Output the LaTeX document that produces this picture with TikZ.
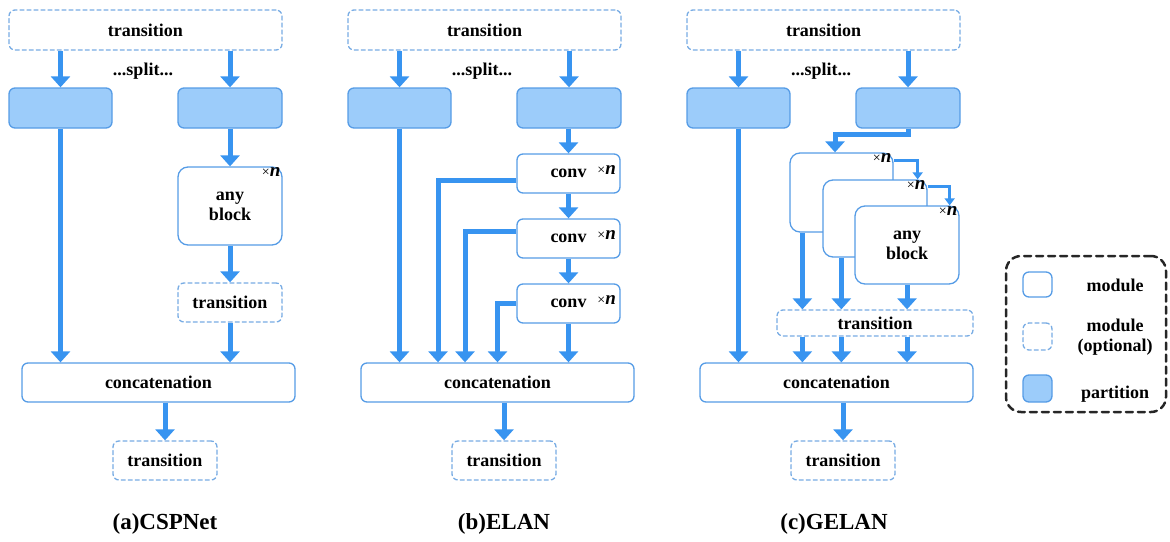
\documentclass[tikz,border=0pt]{standalone}
\usepackage{fontspec}
\setmainfont{Liberation Serif}
\usetikzlibrary{arrows.meta}
\definecolor{flowblue}{RGB}{56,148,240}
\definecolor{edgeblue}{RGB}{86,156,230}
\definecolor{optblue}{RGB}{120,172,228}
\definecolor{partblue}{RGB}{156,204,250}
\newcommand{\timesn}{{\fontsize{14}{14}\selectfont\mdseries ×}\textit{n}}

\begin{document}
\begin{tikzpicture}[x=1pt,y=-1pt,line cap=round,line join=round,
  font=\fontsize{18}{20}\selectfont\bfseries,
  modbox/.style={draw=edgeblue,line width=1.3pt,rounded corners=6pt,fill=white,align=center,inner sep=0pt},
  optbox/.style={modbox,draw=optblue,dash pattern=on 4pt off 3pt},
  partbox/.style={modbox,fill=partblue},
  anybox/.style={modbox,rounded corners=10pt,minimum width=104pt,minimum height=78pt},
  flow/.style={draw=flowblue,line width=5pt,line cap=butt,line join=miter,-{Triangle[width=19pt,length=11pt]}},
  thinflow/.style={draw=flowblue,line width=2.5pt,line cap=butt,line join=miter,-{Triangle[width=10pt,length=7pt]}},
  timesn/.style={font=\fontsize{19}{19}\selectfont\bfseries,inner sep=0pt,anchor=north east},
  caption/.style={font=\fontsize{23}{24}\selectfont\bfseries}]
\useasboundingbox (0,0) rectangle (1170,541);
% (a) CSPNet
\begin{scope}
\node[optbox,minimum width=273pt,minimum height=40pt] (aTop) at (145.5,30) {transition};
\node (aSplit) at (143,71) {...split...};
\node[partbox,minimum width=103pt,minimum height=40pt] (aP1) at (60.5,108) {};
\node[partbox,minimum width=104pt,minimum height=40pt] (aP2) at (230,108) {};
\node[anybox] (aAny) at (230,206) {any\\block};
\node[timesn] at ([xshift=-2pt,yshift=-1pt]aAny.north east) {\timesn};
\node[optbox,minimum width=104pt,minimum height=39pt] (aTr) at (230,302.5) {transition};
\node[modbox,minimum width=273pt,minimum height=39pt] (aCat) at (158.5,382.5) {concatenation};
\node[optbox,minimum width=104pt,minimum height=39pt] (aOut) at (165,460.5) {transition};
\draw[flow] (aTop.south -| aP1.north) -- (aP1.north);
\draw[flow] (aTop.south -| aP2.north) -- (aP2.north);
\draw[flow] (aP1.south) -- (aP1.south |- aCat.north);
\draw[flow] (aP2) -- (aAny);
\draw[flow] (aAny) -- (aTr);
\draw[flow] (aTr.south) -- (aTr.south |- aCat.north);
\draw[flow] (aCat.south -| aOut.north) -- (aOut.north);
\node[caption] (aCap) at (165,524) {(a)CSPNet};
\end{scope}
% (b) ELAN
\begin{scope}[shift={(339,0)}]
\node[optbox,minimum width=273pt,minimum height=40pt] (bTop) at (145.5,30) {transition};
\node (bSplit) at (143,71) {...split...};
\node[partbox,minimum width=103pt,minimum height=40pt] (bP1) at (60.5,108) {};
\node[partbox,minimum width=104pt,minimum height=40pt] (bP2) at (230,108) {};
\foreach \i/\y in {1/173.5,2/238.5,3/303.5} {
  \node[modbox,minimum width=103pt,minimum height=39pt] (bC\i) at (229.5,\y) {conv};
  \node[timesn,anchor=center] at ([xshift=-14pt,yshift=3pt]bC\i.east) {\timesn};
}
\node[modbox,minimum width=273pt,minimum height=39pt] (bCat) at (158.5,382.5) {concatenation};
\node[optbox,minimum width=104pt,minimum height=39pt] (bOut) at (165,460.5) {transition};
\draw[flow] (bTop.south -| bP1.north) -- (bP1.north);
\draw[flow] (bTop.south -| bP2.north) -- (bP2.north);
\draw[flow] (bP1.south) -- (bP1.south |- bCat.north);
\draw[flow] (bP2.south -| bC1.north) -- (bC1.north);
\draw[flow] (bC1) -- (bC2);
\draw[flow] (bC2) -- (bC3);
\draw[flow] (bC3.south) -- (bC3.south |- bCat.north);
\draw[flow] ([yshift=-6.5pt]bC1.west) -| ([xshift=-59.5pt]bCat.north);
\draw[flow] ([yshift=7.5pt]bC2.west) -| ([xshift=-32.5pt]bCat.north);
\draw[flow] (bC3.west) -| (bCat.north);
\draw[flow] (bCat.south -| bOut.north) -- (bOut.north);
\node[caption] (bCap) at (165,524) {(b)ELAN};
\end{scope}
% (c) GELAN
\begin{scope}[shift={(678,0)}]
\node[optbox,minimum width=273pt,minimum height=40pt] (cTop) at (145.5,30) {transition};
\node (cSplit) at (143,71) {...split...};
\node[partbox,minimum width=103pt,minimum height=40pt] (cP1) at (60.5,108) {};
\node[partbox,minimum width=104pt,minimum height=40pt] (cP2) at (230,108) {};
\node[anybox,minimum width=103pt,minimum height=79pt] (cB1) at (163.5,192.5) {};
\node[timesn] at ([xshift=-2pt,yshift=-1pt]cB1.north east) {\timesn};
\node[anybox,minimum height=77pt] (cB2) at (197,218.5) {};
\node[timesn] at ([xshift=-2pt,yshift=-1pt]cB2.north east) {\timesn};
\node[anybox] (cB3) at (229,245) {any\\block};
\node[timesn] at ([xshift=-2pt,yshift=-1pt]cB3.north east) {\timesn};
\node[optbox,minimum width=196pt,minimum height=26pt] (cTr) at (197,323) {transition};
\node[modbox,minimum width=273pt,minimum height=39pt] (cCat) at (158.5,382.5) {concatenation};
\node[optbox,minimum width=104pt,minimum height=39pt] (cOut) at (165,460.5) {transition};
\coordinate (cL1) at ([xshift=13pt]cB1.south west);
\coordinate (cL2) at ([xshift=19pt]cB2.south west);
\coordinate (cL3) at (cB3.south);
\draw[flow] (cTop.south -| cP1.north) -- (cP1.north);
\draw[flow] (cTop.south -| cP2.north) -- (cP2.north);
\draw[flow] (cP1.south) -- (cP1.south |- cCat.north);
\draw[flow] (cP2.south) -- ++(0,6) -| ([xshift=-6.5pt]cB1.north);
\draw[thinflow] ([yshift=-8pt]cB1.north east) -| ([xshift=-10pt]cB2.north east);
\draw[thinflow] ([yshift=-7pt]cB2.north east) -| ([xshift=-10pt]cB3.north east);
\foreach \l in {cL1,cL2,cL3} {
  \draw[flow] (\l) -- (\l |- cTr.north);
  \draw[flow] (\l |- cTr.south) -- (\l |- cCat.north);
}
\draw[flow] (cCat.south -| cOut.north) -- (cOut.north);
\node[caption] (cCap) at (156,524) {(c)GELAN};
\end{scope}
% legend
\node[draw=black!85,line width=2.5pt,dash pattern=on 7pt off 5pt,rounded corners=15pt,
  minimum width=160pt,minimum height=156pt] (lgFrame) at (1086,334) {};
\node[modbox,minimum width=29pt,minimum height=25pt] (lgMod) at (1037.5,284.5) {};
\node[optbox,minimum width=29pt,minimum height=27pt] (lgOpt) at (1037.5,336.5) {};
\node[partbox,minimum width=29pt,minimum height=27pt] (lgPart) at (1037.5,388.5) {};
\node (lgModText) at (1115,285) {module};
\node[align=center] (lgOptText) at (1115,337) {module\\(optional)};
\node (lgPartText) at (1115,394) {partition};
\end{tikzpicture}
\end{document}
